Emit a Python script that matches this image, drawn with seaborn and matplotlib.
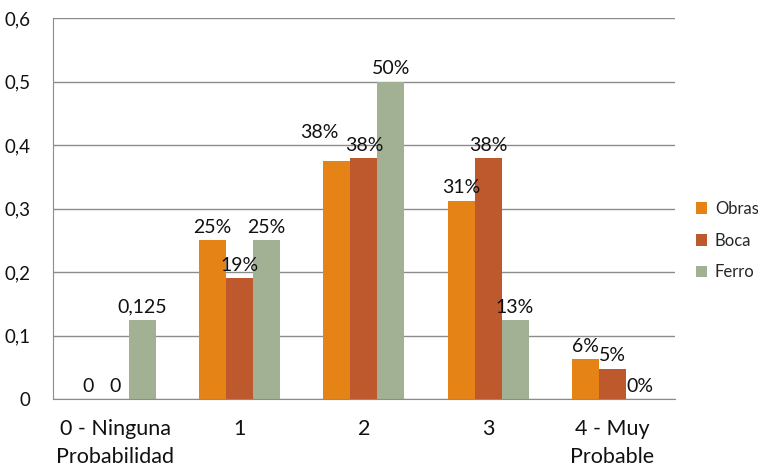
import numpy as np
import pandas as pd
import matplotlib
matplotlib.use('Agg')
import matplotlib.pyplot as plt
import seaborn as sns

categorias = ['0 - Ninguna\nProbabilidad', '1', '2', '3', '4 - Muy\nProbable']
obras = [0, 0.25, 0.375, 0.3125, 0.0625]
boca = [0, 0.19, 0.38, 0.38, 0.048]
ferro = [0.125, 0.25, 0.5, 0.125, 0]
etiquetas = {
    'Obras': ['0', '25%', '38%', '31%', '6%'],
    'Boca': ['0', '19%', '38%', '38%', '5%'],
    'Ferro': ['0,125', '25%', '50%', '13%', '0%'],
}
colores = ['#E68316', '#BE582D', '#A2B193']

df = pd.DataFrame({
    'categoria': categorias * 3,
    'serie': ['Obras'] * 5 + ['Boca'] * 5 + ['Ferro'] * 5,
    'valor': obras + boca + ferro,
})

sns.set_style('white')
plt.rcParams['font.family'] = ['Lato', 'DejaVu Sans']

fig = plt.figure(figsize=(7.58, 4.74), dpi=100)
ax = fig.add_axes([0.07, 0.158, 0.82, 0.804])
sns.barplot(data=df, x='categoria', y='valor', hue='serie', palette=colores,
            width=0.65, ax=ax, saturation=1, linewidth=0)

for cont, serie in zip(ax.containers, ['Obras', 'Boca', 'Ferro']):
    txts = ax.bar_label(cont, labels=etiquetas[serie], padding=3, fontsize=14, color='#111111')
    if serie == 'Obras':
        # etiqueta desplazada a mano como en el original
        txts[2].xyann = (-13, 14)

ax.set_ylim(0, 0.6)
ax.set_yticks(np.arange(0, 0.61, 0.1))
ax.set_yticklabels([f'{v:.1f}'.replace('.', ',') if v > 0 else '0' for v in np.arange(0, 0.61, 0.1)])
ax.yaxis.grid(True, color='#8c8c8c', linewidth=1)
ax.set_axisbelow(True)
ax.set_xlabel('')
ax.set_ylabel('')
for s in ['top', 'right']:
    ax.spines[s].set_visible(False)
ax.spines['left'].set_color('#8c8c8c')
ax.spines['bottom'].set_color('#8c8c8c')
ax.tick_params(axis='both', length=0, colors='#111111')
ax.tick_params(axis='y', pad=16, labelsize=13.5)
ax.tick_params(axis='x', pad=14, labelsize=15.5)
for t in ax.get_xticklabels():
    t.set_linespacing(1.55)

ax.legend(frameon=False, loc='center left', bbox_to_anchor=(1.015, 0.416),
          handlelength=0.7, handleheight=0.7, fontsize=12, labelspacing=0.95,
          handletextpad=0.45, borderaxespad=0.3)

fig.savefig('out.png', dpi=100)
